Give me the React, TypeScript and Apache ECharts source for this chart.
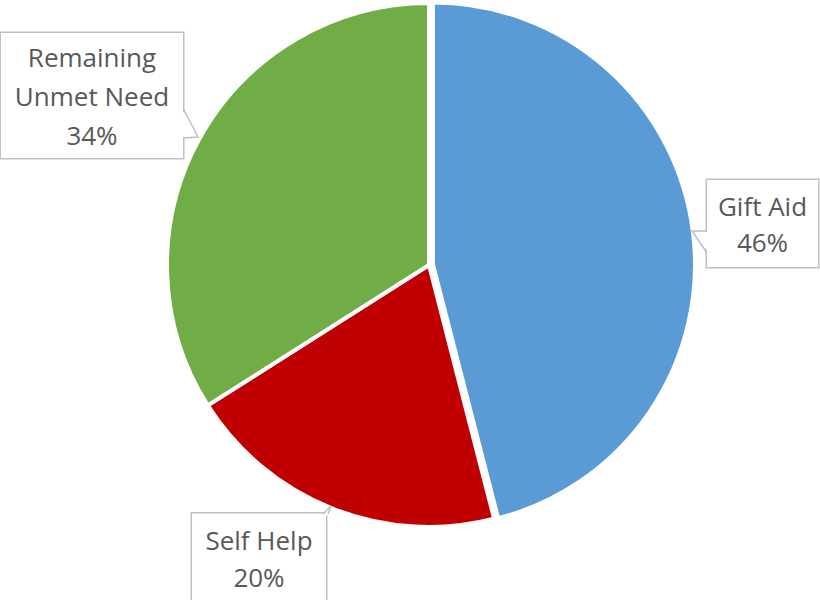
import React, { useEffect, useRef } from "react";
import * as echarts from "echarts";

const categories = ["Gift Aid", "Self Help", "Remaining Unmet Need"];
const values = [46, 20, 34];
const colors = ["#5B9BD5", "#C00000", "#70AD47"];
const labelNames = ["Gift Aid", "Self Help", "Remaining\nUnmet Need"];

export default function App() {
  const ref = useRef<HTMLDivElement>(null);
  useEffect(() => {
    document.body.style.margin = "0";
    const chart = echarts.init(ref.current!, null, { renderer: "svg" });
    const total = values.reduce((a, b) => a + b, 0);
    // callout box geometry: center x/y, width, line height, vertical padding
    const boxes = [
      { cx: 762.5, cy: 223.5, w: 111, lh: 36, pt: 7, pb: 8 },
      { cx: 259, cy: 558, w: 134, lh: 37, pt: 7, pb: 8 },
      { cx: 92, cy: 95.5, w: 182, lh: 39, pt: 4, pb: 4 },
    ];
    const stroke = "#c0c0c0";
    const labels = categories.map((_, i) => {
      const b = boxes[i];
      return {
        type: "text",
        z: 100,
        silent: true,
        x: b.cx,
        y: b.cy,
        style: {
          text: `${labelNames[i]}\n${Math.round((values[i] / total) * 100)}%`,
          fontFamily: "Open Sans, Noto Sans, sans-serif",
          fontSize: 26,
          fill: "#595959",
          align: "center",
          verticalAlign: "middle",
          width: b.w,
          lineHeight: b.lh,
          padding: [b.pt, 0, b.pb, 0],
          backgroundColor: "#ffffff",
          borderColor: stroke,
          borderWidth: 1.5,
        },
      };
    });
    const pointer = (pts: number[][], cover: number[][]) => [
      { type: "polygon", z: 101, silent: true, shape: { points: cover }, style: { fill: "#ffffff" } },
      { type: "polyline", z: 102, silent: true, shape: { points: pts }, style: { stroke, lineWidth: 1.5, fill: null } },
    ];
    chart.setOption({
      animation: false,
      backgroundColor: "#ffffff",
      graphic: [
        ...labels,
        ...pointer([[707, 231], [692, 231], [707, 253]], [[708.5, 231.8], [692, 231], [708.5, 252]]),
        ...pointer([[183, 108], [198, 137], [183, 138]], [[181.5, 109], [198, 137], [181.5, 137.2]]),
        ...pointer([[323, 514], [331, 506], [328, 514]], [[323.5, 515.5], [331, 506], [327.5, 515.5]]),
      ],
      series: [
        {
          type: "pie",
          center: [429, 265],
          radius: [0, 262],
          startAngle: 90,
          clockwise: true,
          selectedMode: "single",
          selectedOffset: 4,
          itemStyle: { borderColor: "#ffffff", borderWidth: 4 },
          label: { show: false },
          labelLine: { show: false },
          data: categories.map((name, i) => ({
            name,
            value: values[i],
            selected: i === 0,
            itemStyle: { color: colors[i] },
          })),
        },
      ],
    });
    return () => chart.dispose();
  }, []);
  return <div ref={ref} style={{ width: 820, height: 600 }} />;
}
